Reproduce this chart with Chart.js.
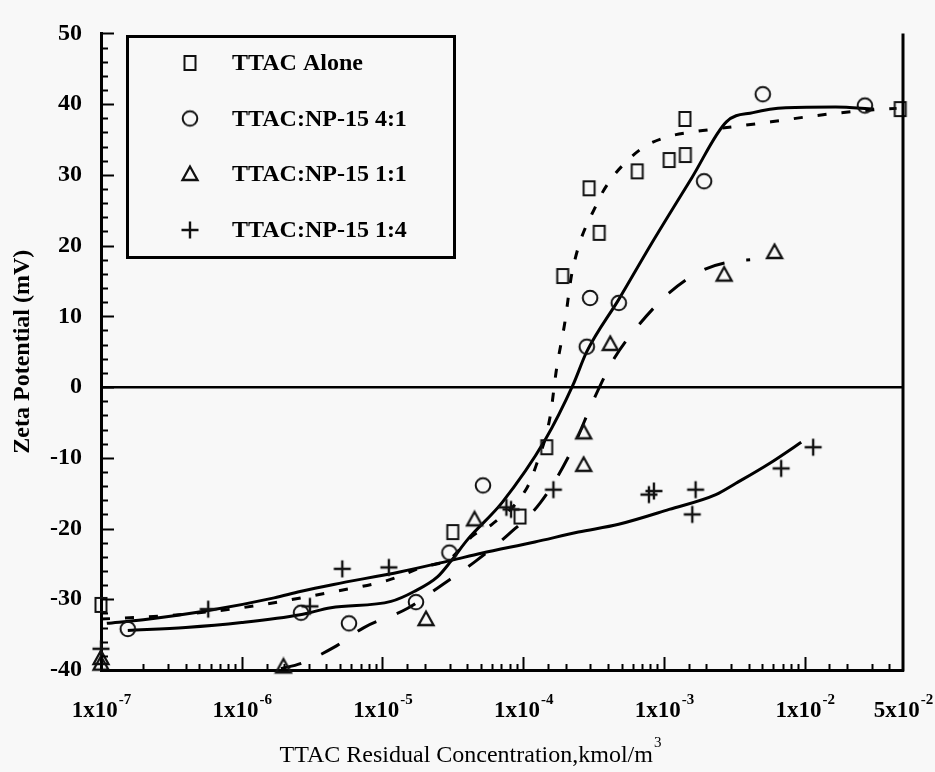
<!DOCTYPE html>
<html>
<head>
<meta charset="utf-8">
<script src="https://cdn.jsdelivr.net/npm/chart.js@4.4.1/dist/chart.umd.min.js"></script>
<style>
  html, body { margin: 0; padding: 0; background: #f8f8f8; }
  canvas { display: block; }
</style>
</head>
<body>
<canvas id="c" width="935" height="772"></canvas>
<script>
// ---------- measured zeta potentials (mV) vs residual TTAC (kmol/m3) ----------
const aloneX = [1e-7, 3.16e-5, 9.5e-5, 1.47e-4, 1.91e-4, 2.94e-4, 3.47e-4, 6.46e-4, 1.09e-3, 1.42e-3, 1.41e-3, 4.78e-2];
const aloneY = [-30.8, -20.5, -18.3, -8.5, 15.7, 28.1, 21.8, 30.5, 32.1, 32.8, 37.9, 39.3];

const r41X = [1.55e-7, 2.64e-6, 5.78e-6, 1.73e-5, 2.99e-5, 5.18e-5, 2.83e-4, 2.99e-4, 4.78e-4, 1.93e-3, 5.04e-3, 2.68e-2];
const r41Y = [-34.2, -31.9, -33.4, -30.4, -23.4, -13.9, 5.7, 12.6, 11.9, 29.1, 41.4, 39.8];

const r11X = [1e-7, 1e-7, 1.98e-6, 2.04e-5, 4.51e-5, 2.69e-4, 2.69e-4, 4.16e-4, 2.68e-3, 6.11e-3];
const r11Y = [-38.3, -39.1, -39.5, -32.8, -18.7, -11.0, -6.4, 6.1, 15.9, 19.1];

const r14X = [1e-7, 5.78e-7, 3.05e-6, 5.18e-6, 1.11e-5, 7.6e-5, 8.2e-5, 1.64e-4, 7.82e-4, 8.49e-4, 1.59e-3, 1.68e-3, 6.81e-3, 1.15e-2];
const r14Y = [-37.0, -31.4, -31.0, -25.7, -25.5, -17.0, -17.3, -14.5, -15.2, -14.7, -18.0, -14.5, -11.5, -8.5];

// ---------- fitted trend curves ----------
const aloneFitX = [1e-7, 3e-7, 1e-6, 4.3e-6, 1.1e-5, 1.9e-5, 3e-5, 4.4e-5, 6e-5, 1.06e-4, 1.24e-4, 1.55e-4, 1.73e-4, 1.98e-4, 2.22e-4, 3.37e-4, 4.18e-4, 5.43e-4, 7.29e-4, 1.07e-3, 1.65e-3, 2.58e-3, 5.78e-3, 1.35e-2, 3.1e-2, 4.5e-2];
const aloneFitY = [-32.8, -32.3, -31.2, -29.0, -27.3, -25.5, -24.3, -21.0, -19.4, -14.3, -11.0, -4.3, 2.7, 9.2, 16.1, 26.1, 29.3, 31.9, 34.0, 35.4, 36.1, 36.6, 37.5, 38.5, 39.2, 39.4];

const r41FitX = [1.55e-7, 4e-7, 1e-6, 2.6e-6, 4.3e-6, 1.15e-5, 1.68e-5, 2.47e-5, 3.07e-5, 4.05e-5, 7.1e-5, 1.43e-4, 2.26e-4, 2.83e-4, 4.78e-4, 8.17e-4, 1.58e-3, 2.78e-3, 4.3e-3, 7.35e-3, 1.66e-2, 3.1e-2];
const r41FitY = [-34.4, -34.0, -33.3, -32.2, -31.2, -30.3, -28.9, -26.8, -24.6, -21.5, -16.3, -7.5, 0.3, 5.0, 12.4, 20.3, 29.6, 37.5, 38.8, 39.5, 39.6, 39.3];

const r11FitX = [1.9e-6, 2.61e-6, 4.51e-6, 7.39e-6, 1.5e-5, 2.68e-5, 4.6e-5, 7.9e-5, 1.33e-4, 2.18e-4, 3.25e-4, 4.45e-4, 6.27e-4, 1.09e-3, 1.93e-3, 3.43e-3, 4.1e-3];
const r11FitY = [-39.8, -39.1, -36.8, -34.0, -31.3, -27.9, -24.6, -20.8, -16.3, -9.2, -1.3, 4.1, 8.2, 13.3, 16.6, 17.9, 18.0];

const r14FitX = [1.1e-7, 2e-7, 5.8e-7, 1.7e-6, 2.6e-6, 4.5e-6, 1.35e-5, 3.07e-5, 5.04e-5, 1.21e-4, 2.47e-4, 4.77e-4, 1.09e-3, 2.34e-3, 3.25e-3, 5.62e-3, 9.46e-3];
const r14FitY = [-33.4, -32.9, -31.6, -29.8, -28.9, -27.9, -26.1, -24.5, -23.5, -21.9, -20.5, -19.4, -17.3, -15.2, -13.6, -10.8, -7.8];

// ---------- text ----------
const seriesLabels = ['TTAC Alone', 'TTAC:NP-15 4:1', 'TTAC:NP-15 1:1', 'TTAC:NP-15 1:4'];
const xTickValues = [1e-7, 1e-6, 1e-5, 1e-4, 1e-3, 1e-2, 5e-2];
const xTickBase = ['1x10', '1x10', '1x10', '1x10', '1x10', '1x10', '5x10'];
const xTickExp = ['-7', '-6', '-5', '-4', '-3', '-2', '-2'];
const xTitle = 'TTAC Residual Concentration,kmol/m';
const xTitleSup = '3';
const yTitle = 'Zeta Potential (mV)';

const SERIF = '"Liberation Serif", "Times New Roman", serif';
const INK = '#111';

// ---------- marker glyphs ----------
function marker(kind) {
  const c = document.createElement('canvas');
  c.width = 20; c.height = 20;
  const g = c.getContext('2d');
  g.strokeStyle = INK;
  g.lineWidth = 2;
  g.beginPath();
  if (kind === 'square') {
    g.rect(4.5, 3, 11, 14);
  } else if (kind === 'circle') {
    g.arc(10, 10, 7.3, 0, Math.PI * 2);
  } else if (kind === 'triangle') {
    g.lineWidth = 2.3;
    g.moveTo(10, 2.5); g.lineTo(2.5, 16); g.lineTo(17.5, 16); g.closePath();
  } else {
    g.lineWidth = 2.4;
    g.moveTo(1.5, 10); g.lineTo(18.5, 10);
    g.moveTo(10, 1.5); g.lineTo(10, 18.5);
  }
  g.stroke();
  return c;
}
const markers = [marker('square'), marker('circle'), marker('triangle'), marker('plus')];

const pts = (xs, ys) => xs.map((x, i) => ({ x, y: ys[i] }));

function scatterSet(i, xs, ys) {
  return {
    label: seriesLabels[i], data: pts(xs, ys), showLine: false,
    pointStyle: markers[i], pointRadius: 8, pointHoverRadius: 8,
    clip: false, order: 1
  };
}
function curveSet(xs, ys, dash) {
  return {
    label: '', data: pts(xs, ys), showLine: true, pointRadius: 0,
    borderColor: '#000', borderWidth: 3, borderDash: dash,
    cubicInterpolationMode: 'monotone', fill: false, clip: false, order: 2
  };
}

// ---------- frame, inward ticks, legend and axis labels ----------
const decorations = {
  id: 'decorations',
  beforeDraw(chart) {
    const c = chart.ctx;
    c.save();
    c.fillStyle = '#f8f8f8';
    c.fillRect(0, 0, chart.width, chart.height);
    c.restore();
  },
  afterDraw(chart) {
    const c = chart.ctx;
    const { left, right, top, bottom } = chart.chartArea;
    const xs = chart.scales.x, ys = chart.scales.y;
    c.save();
    c.strokeStyle = '#000';
    c.lineCap = 'butt';

    // right frame line
    c.lineWidth = 3;
    c.beginPath(); c.moveTo(right, top); c.lineTo(right, bottom + 1.5); c.stroke();

    // y ticks pointing into the plot, minor every 2 mV
    c.lineWidth = 2;
    for (let v = ys.min; v <= ys.max; v += 2) {
      const y = Math.round(ys.getPixelForValue(v)) + 0.5;
      const len = v % 10 === 0 ? 13 : 7;
      c.beginPath(); c.moveTo(left, y); c.lineTo(left + len, y); c.stroke();
    }
    // x ticks pointing into the plot, decades longer
    for (const t of xs.ticks) {
      const l = Math.log10(t.value);
      if (t.value >= xs.max) continue;
      const major = Math.abs(l - Math.round(l)) < 1e-6;
      const x = Math.round(xs.getPixelForValue(t.value)) + 0.5;
      const len = major ? 13 : 6;
      c.beginPath(); c.moveTo(x, bottom); c.lineTo(x, bottom - len); c.stroke();
    }

    // x tick labels with raised exponents
    c.fillStyle = '#000';
    c.textBaseline = 'alphabetic';
    c.textAlign = 'left';
    const baseFont = 'bold 23px ' + SERIF;
    const expFont = 'bold 15px ' + SERIF;
    xTickValues.forEach((v, i) => {
      const px = xs.getPixelForValue(v);
      c.font = baseFont; const wb = c.measureText(xTickBase[i]).width;
      c.font = expFont; const we = c.measureText(xTickExp[i]).width;
      const x0 = px - (wb + we) / 2;
      c.font = baseFont; c.fillText(xTickBase[i], x0, 717);
      c.font = expFont; c.fillText(xTickExp[i], x0 + wb + 1, 704);
    });

    // x axis title with superscript
    c.font = '24px ' + SERIF;
    const wt = c.measureText(xTitle).width;
    c.font = '15px ' + SERIF;
    const ws = c.measureText(xTitleSup).width;
    const tx = 470 - (wt + ws) / 2;
    c.font = '24px ' + SERIF; c.fillText(xTitle, tx, 762);
    c.font = '15px ' + SERIF; c.fillText(xTitleSup, tx + wt + 1, 747);

    // legend box
    c.lineWidth = 3;
    c.strokeRect(127.5, 36.5, 327, 221);
    c.font = 'bold 24px ' + SERIF;
    c.textBaseline = 'middle';
    const rowY = [63, 118.5, 174, 230];
    seriesLabels.forEach((lab, i) => {
      const m = markers[i];
      c.drawImage(m, 190 - m.width / 2, rowY[i] - m.height / 2);
      c.fillText(lab, 232, rowY[i] + 1);
    });
    c.restore();
  }
};

function draw() {
  new Chart(document.getElementById('c'), {
    type: 'scatter',
    data: {
      datasets: [
        scatterSet(0, aloneX, aloneY),
        scatterSet(1, r41X, r41Y),
        scatterSet(2, r11X, r11Y),
        scatterSet(3, r14X, r14Y),
        curveSet(aloneFitX, aloneFitY, [9, 15]),
        curveSet(r41FitX, r41FitY, []),
        curveSet(r11FitX, r11FitY, [21, 22]),
        curveSet(r14FitX, r14FitY, [])
      ]
    },
    options: {
      responsive: false,
      animation: false,
      devicePixelRatio: 1,
      layout: { padding: { top: 23, right: 32, left: 0, bottom: 0 } },
      plugins: { legend: { display: false }, tooltip: { enabled: false } },
      scales: {
        x: {
          type: 'logarithmic', min: 1e-7, max: 5e-2,
          grid: { display: false, drawTicks: false },
          border: { display: true, color: '#000', width: 3 },
          ticks: { display: false },
          afterFit(s) { s.height = 102; }
        },
        y: {
          min: -40, max: 50,
          ticks: { stepSize: 10, color: '#000', padding: 19, font: { family: SERIF, size: 24, weight: 'bold' } },
          grid: {
            drawTicks: false,
            color: (ctx) => (ctx.tick && ctx.tick.value === 0 ? '#000' : 'rgba(0,0,0,0)'),
            lineWidth: 2.5
          },
          border: { display: true, color: '#000', width: 3 },
          title: {
            display: true, text: yTitle, color: '#000',
            font: { family: SERIF, size: 24, weight: 'bold' },
            padding: { top: 8, bottom: 0 }
          },
          afterFit(s) { s.width = 101; }
        }
      }
    },
    plugins: [decorations]
  });
}

if (document.fonts && document.fonts.load) {
  Promise.all([
    document.fonts.load('bold 24px "Liberation Serif"'),
    document.fonts.load('24px "Liberation Serif"')
  ]).then(draw, draw);
} else {
  draw();
}
</script>
</body>
</html>
